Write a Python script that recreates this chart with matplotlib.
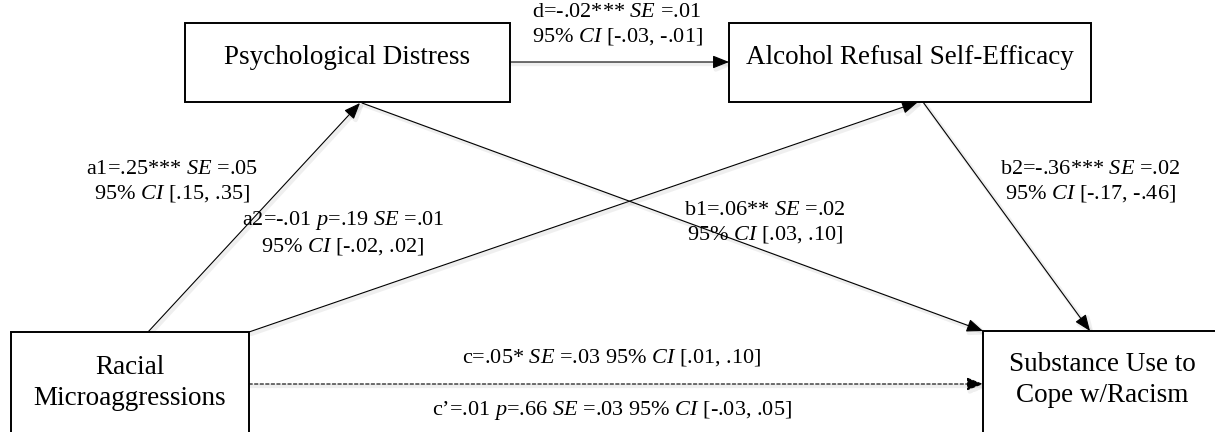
import matplotlib
matplotlib.use('Agg')
from matplotlib import pyplot as plt
from matplotlib.patches import Rectangle
import matplotlib.patheffects as pe

plt.rcParams['font.family'] = 'Liberation Serif'
plt.rcParams['mathtext.fontset'] = 'custom'
plt.rcParams['mathtext.rm'] = 'Liberation Serif'
plt.rcParams['mathtext.it'] = 'Liberation Serif:italic'

# variables in the mediation model
nodes = ['Psychological Distress', 'Alcohol Refusal Self-Efficacy',
         'Racial\nMicroaggressions', 'Substance Use to\nCope w/Racism']

# path estimates
d_txt = ['d=-.02*** $SE$ =.01', '95% $CI$ [-.03, -.01]']
a1_txt = ['a1=.25*** $SE$ =.05', '95% $CI$ [.15, .35]']
a2_txt = ['a2=-.01 $p$=.19 $SE$ =.01', '95% $CI$ [-.02, .02]']
b1_txt = ['b1=.06** $SE$ =.02', '95% $CI$ [.03, .10]']
b2_txt = ['b2=-.36*** $SE$ =.02', '95% $CI$ [-.17, -.46]']
c_txt = 'c=.05* $SE$ =.03 95% $CI$ [.01, .10]'
cp_txt = 'c\u2019=.01 $p$=.66 $SE$ =.03 95% $CI$ [-.03, .05]'

# box geometry (x, y, w, h) in pixel units, y downwards
boxes = [(185, 23, 325, 79), (729, 23, 362, 79),
         (11, 332, 238, 120), (983, 331, 260, 120)]
text_pos = [(347, 58), (910, 58), (130, 383), (1102, 380)]

fig = plt.figure(figsize=(12.15, 4.32), dpi=100)
ax = fig.add_axes([0, 0, 1, 1])
ax.set_xlim(0, 1215)
ax.set_ylim(432, 0)
ax.axis('off')

for (x, y, w, h), name, (tx, ty) in zip(boxes, nodes, text_pos):
    ax.add_patch(Rectangle((x, y), w, h, facecolor='white', edgecolor='black', lw=1.4, zorder=3))
    ax.text(tx, ty, name, ha='center', va='center', fontsize=19.5, linespacing=1.3, zorder=4)

shadow = [pe.SimpleLineShadow(offset=(1.5, -1.5), shadow_color='gray', alpha=0.12, linewidth=3),
          pe.Normal()]

def arrow(p0, p1, ls='-'):
    ax.annotate('', xy=p1, xytext=p0,
                arrowprops=dict(arrowstyle='-|>,head_length=1.0,head_width=0.4',
                                color='black', lw=0.8, linestyle=ls,
                                shrinkA=0, shrinkB=0, path_effects=shadow), zorder=2)

# paths
arrow((510, 62), (729, 62))
arrow((148, 332), (360, 103))
arrow((249, 332), (918, 102))
arrow((362, 103), (983, 331))
arrow((923, 102), (1090, 331))
arrow((249, 384), (983, 384), ls=(0, (3, 2)))

def label(x, y, lines):
    ax.text(x, y, '\n'.join(lines), ha='center', va='center', fontsize=16, linespacing=1.2)

label(617, 25, d_txt)
label(172, 182, a1_txt)
label(343, 233, a2_txt)
label(765, 223, b1_txt)
label(1090, 182, b2_txt)
ax.text(612, 358, c_txt, ha='center', va='center', fontsize=16)
ax.text(612, 410, cp_txt, ha='center', va='center', fontsize=16)

plt.savefig('out.png', dpi=100)
